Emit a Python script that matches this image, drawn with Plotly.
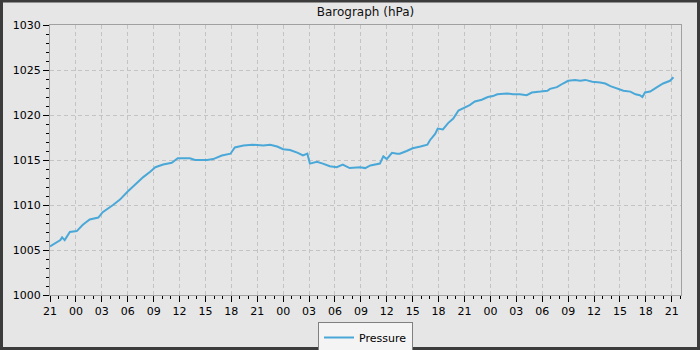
import pandas as pd
import plotly.graph_objects as go

START = "2024-03-01 21:00"
# hours since start (21:00 on day 1)
hours = [0, 0.6, 1.2, 1.4, 1.7, 2.3, 3.1, 3.8, 4.6, 5.6, 6.1, 7.3, 8.1, 9.0, 10.1, 10.8,
         11.6, 12.2, 13.1, 14.1, 14.8, 16.2, 16.8, 18.2, 18.9, 19.9, 20.9, 21.2, 21.4,
         22.4, 23.4, 24.7, 25.5, 26.3, 27.0, 27.8, 28.4, 28.7, 29.3, 29.8, 30.1, 30.9,
         31.6, 32.4, 33.2, 33.9, 34.7, 35.9, 36.5, 37.1, 38.2, 38.6, 39.0, 39.6, 40.2,
         40.5, 41.3, 42.0, 42.9, 43.7, 44.0, 44.6, 44.9, 45.5, 46.1, 46.7, 47.3, 48.1,
         48.6, 49.2, 50.0, 50.7, 51.3, 51.8, 52.9, 53.6, 54.4, 55.2, 55.8, 56.8, 57.6,
         57.9, 58.7, 59.4, 60.0, 60.8, 61.4, 62.0, 62.8, 63.7, 64.3, 64.9, 65.7, 66.4,
         67.2, 67.8, 68.3, 68.6, 68.9, 69.5, 70.3, 71.0, 71.8, 72.2]
pressure = [1005.4, 1005.8, 1006.1, 1006.4, 1006.1, 1007.0, 1007.1, 1007.8, 1008.4, 1008.6,
            1009.2, 1010.0, 1010.6, 1011.5, 1012.5, 1013.1, 1013.7, 1014.2, 1014.5, 1014.7,
            1015.2, 1015.2, 1015.0, 1015.0, 1015.1, 1015.5, 1015.7, 1016.1, 1016.4, 1016.6,
            1016.7, 1016.6, 1016.7, 1016.5, 1016.2, 1016.1, 1015.9, 1015.8, 1015.5, 1015.7,
            1014.6, 1014.8, 1014.6, 1014.3, 1014.2, 1014.5, 1014.1, 1014.2, 1014.1, 1014.4,
            1014.6, 1015.4, 1015.1, 1015.8, 1015.7, 1015.7, 1016.0, 1016.3, 1016.5, 1016.7,
            1017.2, 1017.9, 1018.5, 1018.4, 1019.1, 1019.6, 1020.5, 1020.9, 1021.1, 1021.5,
            1021.7, 1022.0, 1022.1, 1022.3, 1022.4, 1022.3, 1022.3, 1022.2, 1022.5, 1022.6,
            1022.7, 1022.9, 1023.1, 1023.5, 1023.8, 1023.9, 1023.8, 1023.9, 1023.7, 1023.6,
            1023.5, 1023.2, 1022.9, 1022.7, 1022.6, 1022.3, 1022.2, 1022.0, 1022.5, 1022.6,
            1023.1, 1023.5, 1023.8, 1024.2]
series_name = "Pressure"
title_text = "Barograph (hPa)"
x_span_hours = 73.07

base = pd.Timestamp(START)
times = [base + pd.Timedelta(hours=h) for h in hours]

W, H = 700, 350
ML, MR, MT, MB = 50, 19, 25, 55
PW, PH = W - ML - MR, H - MT - MB

FONT = "DejaVu Sans"
LINE = "#4aa8d8"
BG = "#e6e6e6"
GRID = "#c4c4c4"
FRAME = "#a0a0a0"

fig = go.Figure()
fig.add_trace(go.Scatter(x=times, y=pressure, mode="lines", name=series_name,
                         line=dict(color=LINE, width=2), showlegend=True))

def px_x(p):
    return (p - ML) / PW

def px_y(p):
    return (H - MB - p) / PH

fig.update_layout(
    width=W, height=H,
    margin=dict(l=ML, r=MR, t=MT, b=MB, pad=0, autoexpand=False),
    paper_bgcolor=BG, plot_bgcolor=BG,
    font=dict(family=FONT, size=11, color="#000000"),
    title=dict(text=title_text, x=0.5, xanchor="center", xref="paper",
               y=1 - 12 / H, yref="container", yanchor="middle",
               font=dict(family=FONT, size=12, color="#111111")),
    showlegend=True,
    legend=dict(orientation="h", x=0.5, xanchor="center", xref="paper",
                y=1 - 322 / H, yref="container", yanchor="top",
                bgcolor="#f4f4f4", bordercolor="#808080", borderwidth=1,
                font=dict(family=FONT, size=11, color="#000000"),
                itemwidth=30, tracegroupgap=0),
    xaxis=dict(
        type="date",
        range=[base, base + pd.Timedelta(hours=x_span_hours)],
        tick0=base, dtick=3 * 3600 * 1000, tickformat="%H",
        ticks="outside", ticklen=6, tickcolor="#000000", tickwidth=1,
        showline=True, linecolor=FRAME, linewidth=1, mirror=True,
        showgrid=True, gridcolor=GRID, gridwidth=1, griddash="4px,3px",
        zeroline=False,
        tickfont=dict(family=FONT, size=11, color="#000000"),
        minor=dict(dtick=3600 * 1000, tick0=base, ticks="outside", ticklen=3,
                   tickcolor="#000000", tickwidth=1, showgrid=False),
    ),
    yaxis=dict(
        range=[1000, 1030], dtick=5, tick0=1000,
        ticks="outside", ticklen=6, tickcolor="#000000", tickwidth=1,
        showline=True, linecolor=FRAME, linewidth=1, mirror=True,
        showgrid=True, gridcolor=GRID, gridwidth=1, griddash="4px,3px",
        zeroline=False,
        tickfont=dict(family=FONT, size=11, color="#000000"),
        minor=dict(dtick=1, ticks="outside", ticklen=3, tickcolor="#000000",
                   tickwidth=1, showgrid=False),
    ),
    shapes=[dict(type="rect", xref="paper", yref="paper", layer="above",
                 x0=px_x(1.5), x1=px_x(698.5), y0=px_y(348.5), y1=px_y(1.0),
                 line=dict(color="#3c3c3c", width=3), fillcolor="rgba(0,0,0,0)")],
)

fig.write_html("out.html")
